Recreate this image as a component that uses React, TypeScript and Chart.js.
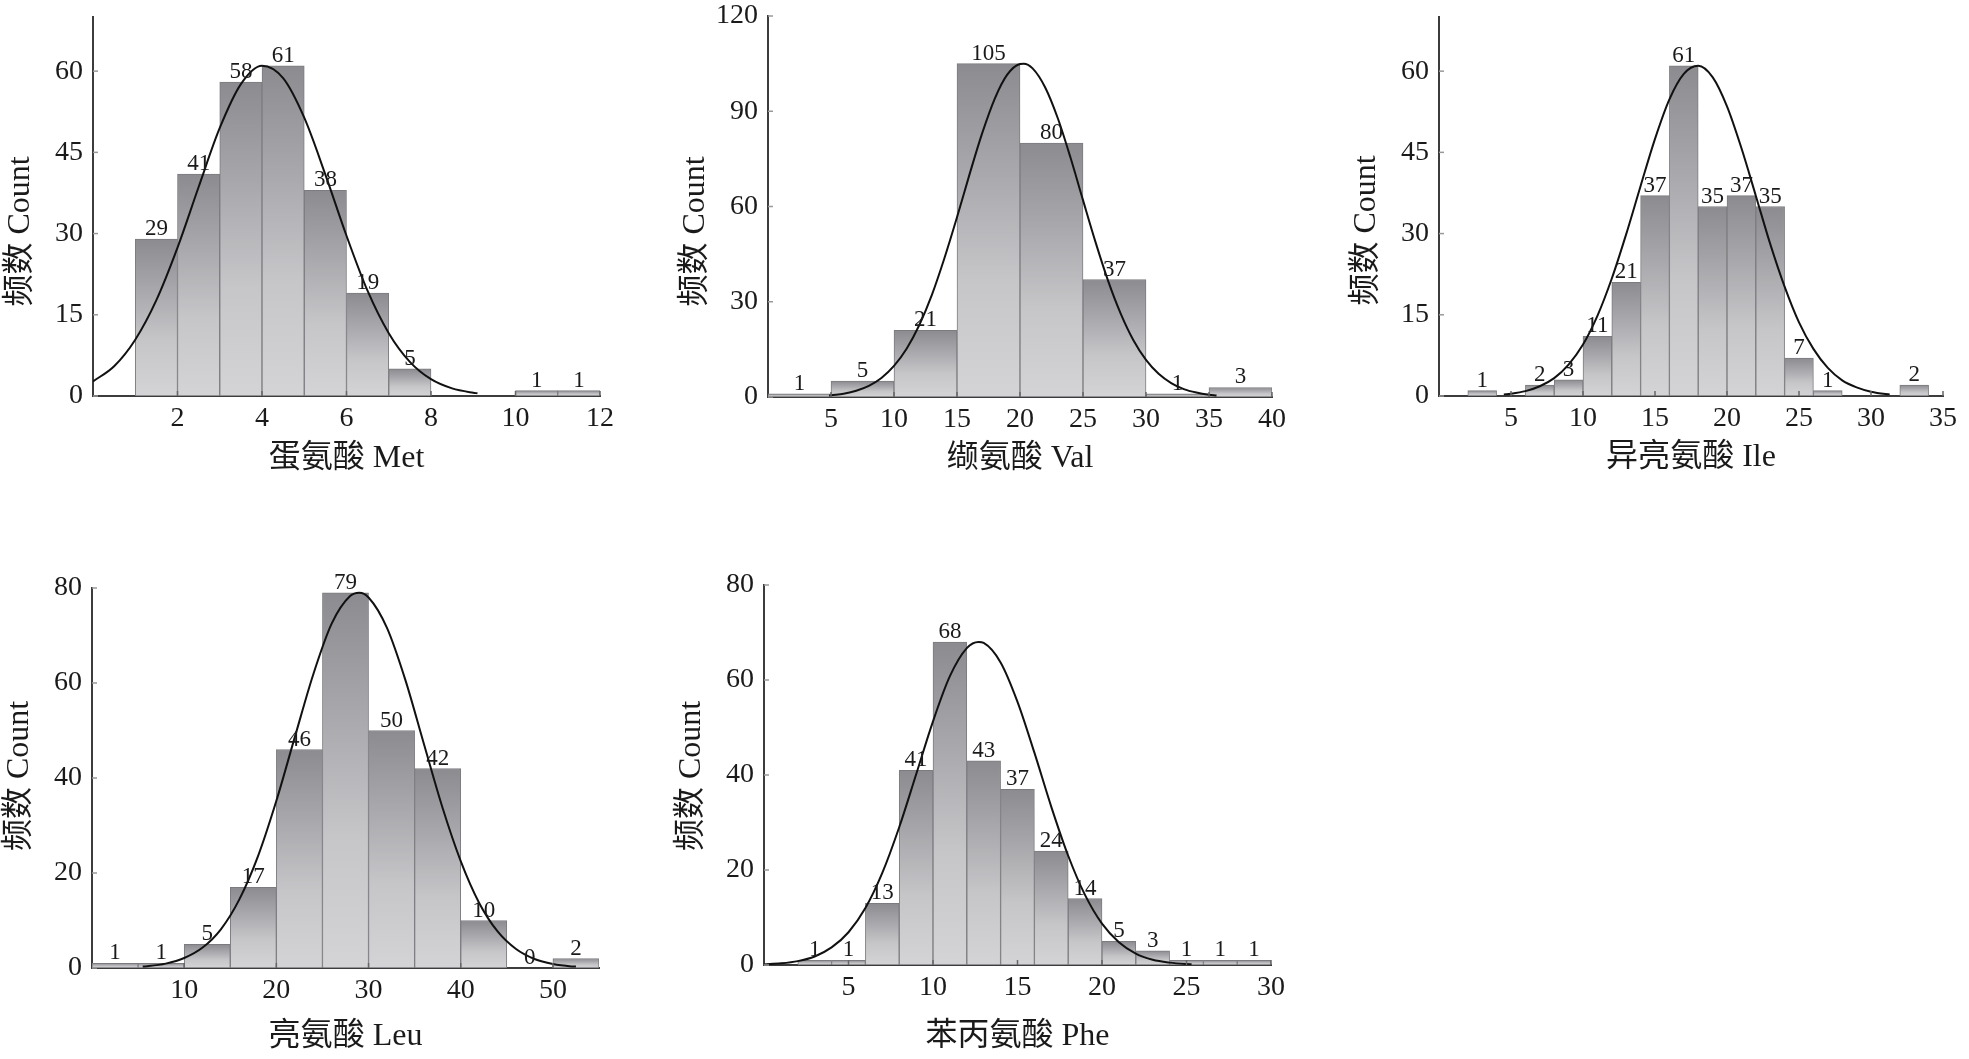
import React, { useEffect, useRef } from 'react';
import Chart from 'chart.js/auto';

// ---- 蛋氨酸 Met ----
const metBins = [1.5, 2.5, 3.5, 4.5, 5.5, 6.5, 7.5, 8.5, 9.5, 10.5, 11.5];
const metCounts = [29, 41, 58, 61, 38, 19, 5, null, null, 1, 1];
const metCurveX = [0, 0.5, 1, 1.5, 2, 2.5, 3, 3.5, 4, 4.5, 5, 5.5, 6, 6.5, 7, 7.5, 8, 8.5, 9, 9.1];
const metCurveY = [2.7, 5.5, 10.4, 17.7, 27.4, 38.6, 49.5, 57.6, 61.0, 58.7, 51.4, 40.9, 29.6, 19.4, 11.6, 6.3, 3.1, 1.4, 0.6, 0.5];
const metXTicks = [2, 4, 6, 8, 10, 12];
const metYTicks = [0, 15, 30, 45, 60];

// ---- 缬氨酸 Val ----
const valBins = [2.5, 7.5, 12.5, 17.5, 22.5, 27.5, 32.5, 37.5];
const valCounts = [1, 5, 21, 105, 80, 37, 1, 3];
const valCurveX = [4.85, 5, 6, 7, 8, 9, 10, 11, 12, 13, 14, 15, 16, 17, 18, 19, 20, 20.3, 21, 22, 23, 24, 25, 26, 27, 28, 29, 30, 31, 32, 33, 34, 35, 35.6];
const valCurveY = [0.45, 0.54, 1.05, 1.96, 3.5, 6.0, 9.8, 15.2, 22.6, 32.1, 43.7, 56.6, 70.2, 83.1, 94.0, 101.6, 104.9, 105.0, 103.5, 97.5, 87.8, 75.5, 62.0, 48.7, 36.5, 26.2, 17.9, 11.7, 7.3, 4.4, 2.5, 1.4, 0.7, 0.45];
const valXTicks = [5, 10, 15, 20, 25, 30, 35, 40];
const valYTicks = [0, 30, 60, 90, 120];

// ---- 异亮氨酸 Ile ----
const ileBins = [3, 5, 7, 9, 11, 13, 15, 17, 19, 21, 23, 25, 27, 29, 31, 33];
const ileCounts = [1, null, 2, 3, 11, 21, 37, 61, 35, 37, 35, 7, 1, null, null, 2];
const ileCurveX = [4.5, 5, 6, 7, 8, 9, 10, 11, 12, 13, 14, 15, 16, 17, 18, 19, 20, 21, 22, 23, 24, 25, 26, 27, 28, 29, 30, 31, 31.3];
const ileCurveY = [0.3, 0.43, 0.9, 1.8, 3.3, 5.8, 9.5, 14.8, 21.7, 29.9, 38.8, 47.5, 54.8, 59.5, 61.0, 58.9, 53.5, 45.8, 37.0, 28.1, 20.2, 13.6, 8.7, 5.2, 2.9, 1.6, 0.8, 0.37, 0.3];
const ileXTicks = [5, 10, 15, 20, 25, 30, 35];
const ileYTicks = [0, 15, 30, 45, 60];

// ---- 亮氨酸 Leu ----
const leuBins = [2.5, 7.5, 12.5, 17.5, 22.5, 27.5, 32.5, 37.5, 42.5, 47.5, 52.5];
const leuCounts = [1, 1, 5, 17, 46, 79, 50, 42, 10, 0, 2];
const leuCurveX = [5.5, 6, 8, 10, 12, 14, 16, 18, 20, 22, 24, 26, 28, 29, 30, 32, 34, 36, 38, 40, 42, 44, 46, 48, 50, 52, 52.5];
const leuCurveY = [0.3, 0.37, 0.92, 2.1, 4.3, 8.2, 14.5, 23.5, 35.2, 48.6, 61.8, 72.5, 78.3, 79.0, 78.0, 71.6, 60.6, 47.2, 33.9, 22.5, 13.7, 7.7, 4.0, 1.9, 0.84, 0.34, 0.3];
const leuXTicks = [10, 20, 30, 40, 50];
const leuYTicks = [0, 20, 40, 60, 80];

// ---- 苯丙氨酸 Phe ----
const pheBins = [3, 5, 7, 9, 11, 13, 15, 17, 19, 21, 23, 25, 27, 29];
const pheCounts = [1, 1, 13, 41, 68, 43, 37, 24, 14, 5, 3, 1, 1, 1];
const pheCurveX = [0, 1, 2, 3, 4, 5, 6, 7, 8, 9, 10, 11, 12, 12.7, 13, 14, 15, 16, 17, 18, 19, 20, 21, 22, 23, 24, 25, 25.3];
const pheCurveY = [0.13, 0.35, 0.82, 1.8, 3.7, 6.9, 12.0, 19.4, 29.0, 40.1, 51.3, 60.8, 66.7, 68.0, 67.8, 63.7, 55.4, 44.7, 33.3, 23.0, 14.7, 8.7, 4.8, 2.4, 1.1, 0.5, 0.2, 0.15];
const pheXTicks = [5, 10, 15, 20, 25, 30];
const pheYTicks = [0, 20, 40, 60, 80];

const SERIF = '"Liberation Serif", "Times New Roman", "Noto Sans CJK SC", serif';
const TEXT = '#1a1a1a';

// space around the plot area inside each canvas
const AXIS_W = 95;
const AXIS_H = 88;
const PAD_T = 30;
const PAD_R = 30;

interface PanelProps {
  title: string;
  bins: number[];
  counts: (number | null)[];
  curveX: number[];
  curveY: number[];
  xMax: number;
  xTicks: number[];
  yMax: number;
  yTicks: number[];
  box: { l: number; t: number; r: number; b: number };
  yTitleShift: number;
  xTitleGap: number;
}

// each bar gets its own dark-to-light vertical gradient
const barFill = (ctx: any) => {
  const chart = ctx.chart;
  const ys = chart.scales && chart.scales.y;
  const v = ctx.parsed ? ctx.parsed.y : null;
  if (!ys || v == null) return '#b4b4b8';
  const top = ys.getPixelForValue(v);
  const base = ys.getPixelForValue(0);
  if (!isFinite(top) || !isFinite(base) || base - top < 1) return '#b4b4b8';
  const g = chart.ctx.createLinearGradient(0, top, 0, base);
  g.addColorStop(0, '#8b8b90');
  g.addColorStop(0.65, '#c6c6c9');
  g.addColorStop(1, '#d4d4d6');
  return g;
};

const inwardTicks = {
  id: 'inwardTicks',
  afterDraw(chart: any) {
    const { ctx, chartArea: ca, scales } = chart;
    ctx.save();
    ctx.strokeStyle = '#666';
    ctx.lineWidth = 1.5;
    scales.x.ticks.forEach((t: any) => {
      const px = scales.x.getPixelForValue(t.value);
      ctx.beginPath();
      ctx.moveTo(px, ca.bottom);
      ctx.lineTo(px, ca.bottom - 5);
      ctx.stroke();
    });
    ctx.strokeStyle = '#999';
    scales.y.ticks.forEach((t: any) => {
      const py = scales.y.getPixelForValue(t.value);
      ctx.beginPath();
      ctx.moveTo(ca.left, py);
      ctx.lineTo(ca.left + 5, py);
      ctx.stroke();
    });
    ctx.restore();
  },
};

const barLabels = {
  id: 'barLabels',
  afterDatasetsDraw(chart: any) {
    const { ctx } = chart;
    const meta = chart.getDatasetMeta(1);
    const ds: any = chart.data.datasets[1];
    ctx.save();
    ctx.font = `23px ${SERIF}`;
    ctx.fillStyle = TEXT;
    ctx.textAlign = 'center';
    ctx.textBaseline = 'alphabetic';
    meta.data.forEach((el: any, i: number) => {
      const v = ds.data[i].y;
      if (v == null || !isFinite(el.y)) return;
      ctx.fillText(String(v), el.x, el.y - 4);
    });
    ctx.restore();
  },
};

const axisTitles = (title: string, yShift: number, xGap: number) => ({
  id: 'axisTitles',
  afterDraw(chart: any) {
    const { ctx, chartArea: ca } = chart;
    ctx.save();
    ctx.font = `32px ${SERIF}`;
    ctx.fillStyle = TEXT;
    ctx.textAlign = 'center';
    ctx.textBaseline = 'middle';
    ctx.fillText(title, (ca.left + ca.right) / 2, ca.bottom + xGap);
    ctx.translate(ca.left - 72, (ca.top + ca.bottom) / 2 + yShift);
    ctx.rotate(-Math.PI / 2);
    ctx.fillText('频数 Count', 0, 0);
    ctx.restore();
  },
});

const Panel: React.FC<PanelProps> = (p) => {
  const canvasRef = useRef<HTMLCanvasElement>(null);
  const w = p.box.r - p.box.l + AXIS_W + PAD_R;
  const h = p.box.b - p.box.t + PAD_T + AXIS_H;

  useEffect(() => {
    if (!canvasRef.current) return;
    const tickFont = { family: SERIF, size: 28 };
    const chart = new Chart(canvasRef.current, {
      type: 'bar',
      data: {
        datasets: [
          {
            type: 'line',
            data: p.curveX.map((x, i) => ({ x, y: p.curveY[i] })),
            borderColor: '#111',
            borderWidth: 2,
            pointRadius: 0,
            cubicInterpolationMode: 'monotone',
            fill: false,
            order: 0,
          } as any,
          {
            type: 'bar',
            data: p.bins.map((x, i) => ({ x, y: p.counts[i] })),
            backgroundColor: barFill,
            borderColor: '#7c7c80',
            borderWidth: 1,
            borderSkipped: false,
            barPercentage: 1,
            categoryPercentage: 1,
            order: 1,
          } as any,
        ],
      },
      options: {
        responsive: false,
        animation: false,
        layout: { padding: { top: PAD_T, right: PAD_R, left: 0, bottom: 0 } },
        plugins: { legend: { display: false }, tooltip: { enabled: false } },
        scales: {
          x: {
            type: 'linear',
            min: 0,
            max: p.xMax,
            offset: false,
            afterFit: (s: any) => { s.height = AXIS_H; },
            afterBuildTicks: (s: any) => { s.ticks = p.xTicks.map((v) => ({ value: v })); },
            grid: { display: false, drawTicks: false },
            border: { display: true, color: '#3c3c3c', width: 2 },
            ticks: { font: tickFont, color: TEXT, padding: 6, maxRotation: 0, autoSkip: false },
          },
          y: {
            type: 'linear',
            min: 0,
            max: p.yMax,
            afterFit: (s: any) => { s.width = AXIS_W; },
            afterBuildTicks: (s: any) => { s.ticks = p.yTicks.map((v) => ({ value: v })); },
            grid: { display: false, drawTicks: false },
            border: { display: true, color: '#3c3c3c', width: 2 },
            ticks: { font: tickFont, color: TEXT, padding: 10 },
          },
        },
      } as any,
      plugins: [inwardTicks, barLabels, axisTitles(p.title, p.yTitleShift, p.xTitleGap)],
    });
    return () => chart.destroy();
  }, []);

  return (
    <canvas
      ref={canvasRef}
      width={w}
      height={h}
      style={{ position: 'absolute', left: p.box.l - AXIS_W, top: p.box.t - PAD_T, width: w, height: h }}
    />
  );
};

export default function App() {
  return (
    <div style={{ position: 'absolute', left: 0, top: 0, width: 1969, height: 1059, overflow: 'hidden', background: '#fff' }}>
      <Panel
        title="蛋氨酸 Met" bins={metBins} counts={metCounts} curveX={metCurveX} curveY={metCurveY}
        xMax={12} xTicks={metXTicks} yMax={70} yTicks={metYTicks}
        box={{ l: 93, t: 17, r: 600, b: 396 }} yTitleShift={25} xTitleGap={63}
      />
      <Panel
        title="缬氨酸 Val" bins={valBins} counts={valCounts} curveX={valCurveX} curveY={valCurveY}
        xMax={40} xTicks={valXTicks} yMax={120} yTicks={valYTicks}
        box={{ l: 768, t: 16, r: 1272, b: 397 }} yTitleShift={25} xTitleGap={62}
      />
      <Panel
        title="异亮氨酸 Ile" bins={ileBins} counts={ileCounts} curveX={ileCurveX} curveY={ileCurveY}
        xMax={35} xTicks={ileXTicks} yMax={70} yTicks={ileYTicks}
        box={{ l: 1439, t: 17, r: 1943, b: 396 }} yTitleShift={24} xTitleGap={62}
      />
      <Panel
        title="亮氨酸 Leu" bins={leuBins} counts={leuCounts} curveX={leuCurveX} curveY={leuCurveY}
        xMax={55} xTicks={leuXTicks} yMax={80} yTicks={leuYTicks}
        box={{ l: 92, t: 588, r: 599, b: 968 }} yTitleShift={-2} xTitleGap={69}
      />
      <Panel
        title="苯丙氨酸 Phe" bins={pheBins} counts={pheCounts} curveX={pheCurveX} curveY={pheCurveY}
        xMax={30} xTicks={pheXTicks} yMax={80} yTicks={pheYTicks}
        box={{ l: 764, t: 585, r: 1271, b: 965 }} yTitleShift={1} xTitleGap={72}
      />
    </div>
  );
}
